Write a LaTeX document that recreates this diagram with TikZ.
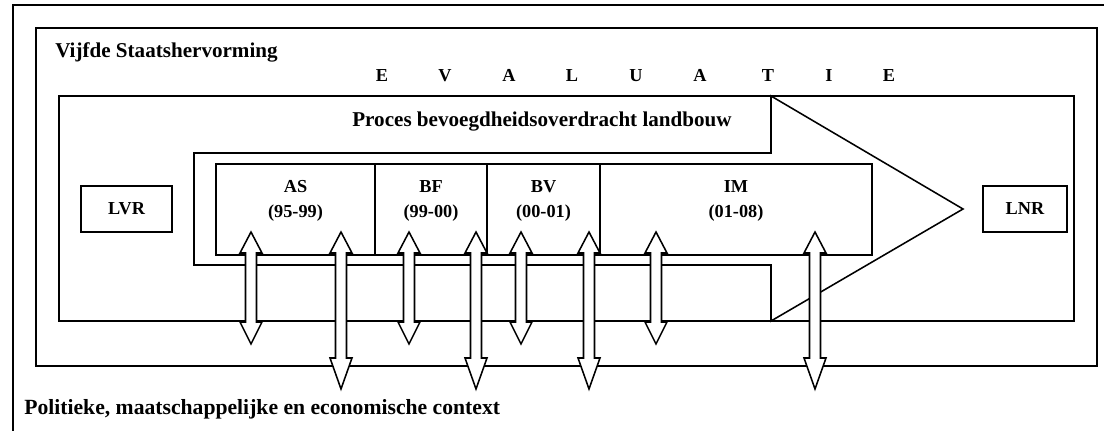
\documentclass[tikz,border=0pt]{standalone}
\usepackage{fontspec}
\setmainfont{Liberation Serif}
\begin{document}
\begin{tikzpicture}[x=0.025cm,y=-0.025cm,
  frameline/.style={line width=1.8pt},
  boxline/.style={draw, line width=1.1pt, fill=white},
  plainbox/.style={boxline, rectangle, inner sep=0pt, minimum height=1.15cm},
  phasebox/.style={boxline, rectangle, inner sep=0pt, minimum height=2.275cm},
  lbl/.style={font=\bfseries\fontsize{13}{17.8}\selectfont, align=center, inner sep=0pt},
  big/.style={font=\bfseries\fontsize{15}{18}\selectfont, inner sep=0pt},
  evl/.style={font=\bfseries\fontsize{13}{15}\selectfont, inner sep=0pt, anchor=base},
  dblarrow/.style={draw, line width=1.1pt, fill=white, line join=miter}
]
\useasboundingbox (0,0) rectangle (1104,431);

% outer frame: only top and left edges
\draw[frameline] (13,431) -- (13,5) -- (1104,5);

% reform frame and process frame
\draw[boxline] (36,28) rectangle (1097,366);
\draw[boxline] (59,96) rectangle (1074,321);

% process block arrow
\draw[boxline, line join=miter] (194,153) -- (771,153) -- (771,96) -- (963,209)
  -- (771,321) -- (771,265) -- (194,265) -- cycle;

% phase boxes
\node[phasebox, minimum width=3.975cm] (as) at (295.5,209.5) {};
\node[phasebox, minimum width=2.8cm]   (bf) at (431,209.5) {};
\node[phasebox, minimum width=2.825cm] (bv) at (543.5,209.5) {};
\node[phasebox, minimum width=6.8cm]   (im) at (736,209.5) {};

\node[lbl] (aslbl) at (295.5,201) {AS\\(95-99)};
\node[lbl] (bflbl) at (431,201) {BF\\(99-00)};
\node[lbl] (bvlbl) at (543.5,201) {BV\\(00-01)};
\node[lbl] (imlbl) at (736,201) {IM\\(01-08)};

% start and end states
\node[plainbox, minimum width=2.275cm, lbl] (lvr) at (126.5,209) {LVR};
\node[plainbox, minimum width=2.1cm, lbl]   (lnr) at (1025,209) {LNR};

% titles
\node[big, anchor=west] (reform) at (55,52) {Vijfde Staatshervorming};
\node[big] (proces) at (542,122) {Proces bevoegdheidsoverdracht landbouw};
\node[big, font=\bfseries\fontsize{15.4}{18}\selectfont, anchor=west] (context) at (24,409)
  {Politieke, maatschappelijke en economische context};

% evaluation letters
\foreach \xx/\ch [count=\i] in {382/E,445/V,509/A,572/L,636/U,700/A,768/T,829/I,889/E}
  \node[evl] (ev\i) at (\xx,82) {\ch};

% double arrows linking the phases with their context
\foreach \xx/\hb/\tip [count=\i] in {251/322/344, 341/358/389, 409/322/344, 476/358/389,
                                       521/322/344, 589/358/389, 656/322/344, 815/358/389}
  \draw[dblarrow] (\xx,232) -- (\xx+11,253) -- (\xx+5.5,253) -- (\xx+5.5,\hb)
    -- (\xx+11,\hb) -- (\xx,\tip) -- (\xx-11,\hb) -- (\xx-5.5,\hb)
    -- (\xx-5.5,253) -- (\xx-11,253) -- cycle;
\end{tikzpicture}
\end{document}
